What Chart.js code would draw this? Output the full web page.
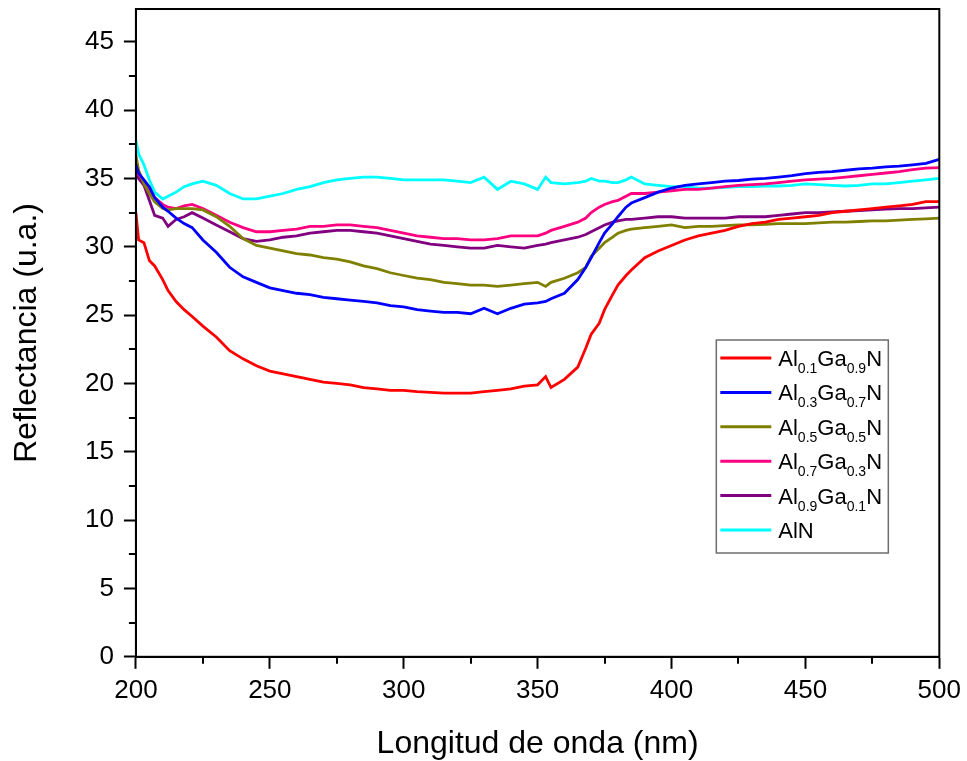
<!DOCTYPE html>
<html>
<head>
<meta charset="utf-8">
<script src="https://cdn.jsdelivr.net/npm/chart.js@4"></script>
<style>
  html, body { margin: 0; padding: 0; background: #fff; }
  #wrap { width: 967px; height: 761px; position: relative; }
</style>
</head>
<body>
<div id="wrap"><canvas id="c"></canvas></div>
<script>
// Wavelength (nm)
const wavelength = [200,201,203,205,207,210,212,215,218,221,
  225,230,235,240,245,250,255,260,265,270,
  275,280,285,290,295,300,305,310,315,320,
  325,330,335,340,345,350,353,355,360,365,
  368,370,373,375,378,380,383,385,390,395,
  400,405,410,415,420,425,430,435,440,445,
  450,455,460,465,470,475,480,485,490,495,
  500];

const al01 = [32.5,30.5,30.3,29.0,28.6,27.6,26.8,26.0,25.4,24.9,
  24.2,23.4,22.4,21.8,21.3,20.9,20.7,20.5,20.3,20.1,
  20.0,19.9,19.7,19.6,19.5,19.5,19.4,19.35,19.3,19.3,
  19.3,19.4,19.5,19.6,19.8,19.9,20.5,19.7,20.3,21.2,
  22.6,23.6,24.4,25.4,26.5,27.2,27.9,28.3,29.2,29.7,
  30.1,30.5,30.8,31.0,31.2,31.5,31.7,31.8,32.0,32.1,
  32.2,32.3,32.5,32.6,32.7,32.8,32.9,33.0,33.1,33.3,
  33.3];

const al03 = [36.0,35.4,34.9,34.4,33.6,32.9,32.6,32.1,31.7,31.4,
  30.5,29.6,28.5,27.8,27.4,27.0,26.8,26.6,26.5,26.3,
  26.2,26.1,26.0,25.9,25.7,25.6,25.4,25.3,25.2,25.2,
  25.1,25.5,25.1,25.5,25.8,25.9,26.0,26.2,26.6,27.6,
  28.5,29.2,30.3,31.0,31.7,32.2,32.9,33.2,33.6,34.0,
  34.3,34.5,34.6,34.7,34.8,34.85,34.95,35.0,35.1,35.2,
  35.35,35.45,35.5,35.6,35.7,35.75,35.85,35.9,36.0,36.1,
  36.4];

const al05 = [36.7,35.6,34.6,33.9,33.3,32.8,32.7,32.8,32.8,32.8,
  32.7,32.2,31.5,30.6,30.1,29.9,29.7,29.5,29.4,29.2,
  29.1,28.9,28.6,28.4,28.1,27.9,27.7,27.6,27.4,27.3,
  27.2,27.2,27.1,27.2,27.3,27.4,27.1,27.4,27.7,28.1,
  28.5,29.3,29.9,30.3,30.7,31.0,31.2,31.3,31.4,31.5,
  31.6,31.4,31.5,31.5,31.55,31.6,31.6,31.65,31.7,31.7,
  31.7,31.75,31.8,31.8,31.85,31.9,31.9,31.95,32.0,32.05,
  32.1];

const al07 = [36.2,35.3,34.8,34.2,33.6,33.1,32.9,32.8,33.0,33.1,
  32.8,32.3,31.8,31.4,31.1,31.1,31.2,31.3,31.5,31.5,
  31.6,31.6,31.5,31.4,31.2,31.0,30.8,30.7,30.6,30.6,
  30.5,30.5,30.6,30.8,30.8,30.8,31.0,31.2,31.5,31.8,
  32.1,32.5,32.9,33.1,33.3,33.4,33.7,33.9,33.9,34.0,
  34.1,34.2,34.2,34.3,34.4,34.5,34.55,34.6,34.7,34.8,
  34.9,34.95,35.0,35.1,35.2,35.3,35.4,35.5,35.65,35.75,
  35.8];

const al09 = [35.4,35.0,34.5,33.4,32.3,32.1,31.5,32.0,32.2,32.5,
  32.1,31.6,31.1,30.6,30.4,30.5,30.7,30.8,31.0,31.1,
  31.2,31.2,31.1,31.0,30.8,30.6,30.4,30.2,30.1,30.0,
  29.9,29.9,30.1,30.0,29.9,30.1,30.2,30.3,30.5,30.7,
  30.9,31.1,31.4,31.6,31.8,31.9,32.0,32.0,32.1,32.2,
  32.2,32.1,32.1,32.1,32.1,32.2,32.2,32.2,32.3,32.4,
  32.5,32.5,32.55,32.6,32.65,32.7,32.75,32.8,32.8,32.85,
  32.9];

const aln = [37.8,36.8,36.0,34.9,34.0,33.5,33.7,34.0,34.4,34.6,
  34.8,34.5,33.9,33.5,33.5,33.7,33.9,34.2,34.4,34.7,
  34.9,35.0,35.1,35.1,35.0,34.9,34.9,34.9,34.9,34.8,
  34.7,35.1,34.2,34.8,34.6,34.2,35.1,34.7,34.6,34.7,
  34.8,35.0,34.8,34.8,34.7,34.7,34.9,35.1,34.6,34.5,
  34.4,34.4,34.3,34.3,34.35,34.4,34.4,34.45,34.45,34.5,
  34.6,34.55,34.5,34.45,34.5,34.6,34.6,34.7,34.8,34.9,
  35.0];

// Legend labels: [element, subscript, element, subscript, element]
const seriesNames = [
  ["Al","0.1","Ga","0.9","N"],
  ["Al","0.3","Ga","0.7","N"],
  ["Al","0.5","Ga","0.5","N"],
  ["Al","0.7","Ga","0.3","N"],
  ["Al","0.9","Ga","0.1","N"],
  ["AlN"]
];
const seriesValues = [al01, al03, al05, al07, al09, aln];
const seriesColors = ["#FF0000","#0000FF","#808000","#FF0080","#800080","#00FFFF"];

const xTitle = "Longitud de onda (nm)";
const yTitle = "Reflectancia (u.a.)";
const FONT = "'Liberation Sans', Arial, Helvetica, sans-serif";

const datasets = seriesValues.map((vals, i) => ({
  label: seriesNames[i].join(""),
  data: wavelength.map((w, j) => ({ x: w, y: vals[j] })),
  borderColor: seriesColors[i],
  backgroundColor: seriesColors[i],
  borderWidth: 2.8,
  pointRadius: 0,
  tension: 0,
  fill: false
}));

const framePlugin = {
  id: 'frameAndMinor',
  afterDraw(chart) {
    const ctx = chart.ctx;
    const a = chart.chartArea;
    const xs = chart.scales.x, ys = chart.scales.y;
    ctx.save();
    ctx.strokeStyle = '#000';
    ctx.lineWidth = 2;
    ctx.strokeRect(a.left, a.top, a.right - a.left, a.bottom - a.top);
    // minor ticks
    ctx.lineWidth = 2;
    ctx.beginPath();
    for (let v = 225; v < 500; v += 50) {
      const px = Math.round(xs.getPixelForValue(v));
      ctx.moveTo(px, a.bottom);
      ctx.lineTo(px, a.bottom + 7);
    }
    for (let v = 2.5; v <= ys.max; v += 5) {
      const py = Math.round(ys.getPixelForValue(v));
      ctx.moveTo(a.left, py);
      ctx.lineTo(a.left - 7, py);
    }
    ctx.stroke();

    // legend with subscripts
    const boxL = a.right - 223, boxT = a.top + 331, boxW = 172, boxH = 213;
    ctx.fillStyle = '#fff';
    ctx.fillRect(boxL, boxT, boxW, boxH);
    ctx.strokeStyle = '#6e6e6e';
    ctx.lineWidth = 1.5;
    ctx.strokeRect(boxL, boxT, boxW, boxH);
    const rowH = 34.4;
    seriesNames.forEach((parts, i) => {
      const cy = boxT + 18 + i * rowH;
      ctx.strokeStyle = seriesColors[i];
      ctx.lineWidth = 3;
      ctx.beginPath();
      ctx.moveTo(boxL + 4, cy);
      ctx.lineTo(boxL + 55, cy);
      ctx.stroke();
      let tx = boxL + 62;
      const base = cy + 8;
      ctx.fillStyle = '#000';
      ctx.textBaseline = 'alphabetic';
      ctx.textAlign = 'left';
      parts.forEach((p, k) => {
        const sub = k % 2 === 1;
        ctx.font = (sub ? '14px ' : '22px ') + FONT;
        ctx.fillText(p, tx, sub ? base + 7 : base);
        tx += ctx.measureText(p).width;
      });
    });
    ctx.restore();
  }
};

new Chart(document.getElementById('c'), {
  type: 'line',
  data: { datasets },
  plugins: [framePlugin],
  options: {
    responsive: true,
    maintainAspectRatio: false,
    animation: false,
    layout: { padding: { top: 9, right: 24, left: 0, bottom: 0 } },
    plugins: { legend: { display: false }, tooltip: { enabled: false } },
    scales: {
      x: {
        type: 'linear',
        min: 200, max: 500,
        border: { display: true, color: '#000', width: 2 },
        grid: { display: true, drawOnChartArea: false, drawTicks: true, tickLength: 12, tickColor: '#000', tickWidth: 2 },
        ticks: { stepSize: 50, color: '#000', padding: 6, font: { family: FONT, size: 26 }, maxRotation: 0, includeBounds: false },
        title: { display: true, text: xTitle, color: '#000', font: { family: FONT, size: 32, lineHeight: 1 }, padding: { top: 16, bottom: 1 } }
      },
      y: {
        type: 'linear',
        min: 0, max: 47.4,
        afterFit: (scale) => { scale.paddingTop = 0; },
        border: { display: true, color: '#000', width: 2 },
        grid: { display: true, drawOnChartArea: false, drawTicks: true, tickLength: 12, tickColor: '#000', tickWidth: 2 },
        ticks: { stepSize: 5, color: '#000', padding: 10, font: { family: FONT, size: 26 }, includeBounds: false },
        title: { display: true, text: yTitle, color: '#000', font: { family: FONT, size: 32, lineHeight: 1 }, padding: { top: 11, bottom: 32 } }
      }
    }
  }
});
</script>
</body>
</html>
